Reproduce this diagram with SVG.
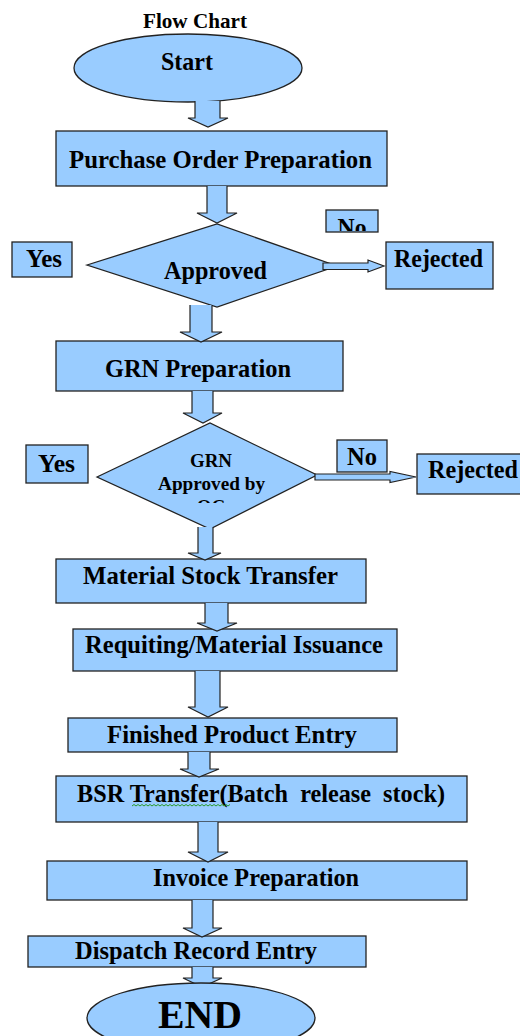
<svg xmlns="http://www.w3.org/2000/svg" width="520" height="1036" viewBox="0 0 520 1036">
<style>
.n{fill:#99ccff;stroke:#222;stroke-width:1.3}
.a{fill:#99ccff;stroke:#222;stroke-width:1.2;stroke-linejoin:miter}
.t{font-family:"Liberation Serif","Times New Roman",serif;font-weight:bold;font-size:25px;fill:#000}
.c{text-anchor:middle}
.s{font-size:19px}
</style>
<defs>
<clipPath id="clipNo1"><rect x="327" y="211" width="50" height="20"/></clipPath>
<clipPath id="clipQC"><rect x="90" y="420" width="240" height="83"/></clipPath>
</defs>
<rect width="520" height="1036" fill="#fff"/>
<g id="title"><text class="t c" x="195" y="28" style="font-size:21px" textLength="104" lengthAdjust="spacingAndGlyphs">Flow Chart</text></g>
<g id="start"><ellipse class="n" cx="188" cy="68" rx="114" ry="34"/><text class="t c" x="187" y="70" textLength="52" lengthAdjust="spacingAndGlyphs">Start</text></g>
<g id="po"><rect class="n" x="56" y="131" width="331" height="55"/><text class="t c" x="220.5" y="168" textLength="303" lengthAdjust="spacingAndGlyphs">Purchase Order Preparation</text></g>
<g id="approved"><polygon class="n" points="87,265 217,224 337,266 217,307"/><text class="t c" x="215.5" y="279" textLength="103" lengthAdjust="spacingAndGlyphs">Approved</text></g>
<g id="yes1"><rect class="n" x="12" y="242" width="60" height="35"/><text class="t c" x="44" y="267" textLength="36" lengthAdjust="spacingAndGlyphs">Yes</text></g>
<g id="no1"><rect class="n" x="326" y="210" width="52" height="22"/><text class="t c" x="352" y="236" clip-path="url(#clipNo1)" textLength="29" lengthAdjust="spacingAndGlyphs">No</text></g>
<g id="rejected1"><rect class="n" x="386" y="242" width="107" height="47"/><text class="t c" x="438.5" y="267" textLength="89" lengthAdjust="spacingAndGlyphs">Rejected</text></g>
<g id="grn"><rect class="n" x="56" y="341" width="287" height="50"/><text class="t c" x="198" y="377" textLength="186" lengthAdjust="spacingAndGlyphs">GRN Preparation</text></g>
<g id="grnqc"><polygon class="n" points="97,477 210,423 317,475 210,529"/>
<g clip-path="url(#clipQC)"><text class="t c s" x="211" y="467" textLength="42" lengthAdjust="spacingAndGlyphs">GRN</text><text class="t c s" x="211.5" y="490" textLength="107" lengthAdjust="spacingAndGlyphs">Approved by</text><text class="t c s" x="211" y="513">QC</text></g></g>
<g id="yes2"><rect class="n" x="26" y="445" width="62" height="38"/><text class="t c" x="56.5" y="472" textLength="37" lengthAdjust="spacingAndGlyphs">Yes</text></g>
<g id="no2"><rect class="n" x="337" y="440" width="50" height="32"/><text class="t c" x="362" y="465" textLength="30" lengthAdjust="spacingAndGlyphs">No</text></g>
<g id="rejected2"><rect class="n" x="417" y="454" width="110" height="40"/><text class="t" x="428" y="478" textLength="90" lengthAdjust="spacingAndGlyphs">Rejected</text></g>
<g id="mst"><rect class="n" x="56" y="559" width="310" height="44"/><text class="t c" x="210.5" y="584" textLength="255" lengthAdjust="spacingAndGlyphs">Material Stock Transfer</text></g>
<g id="rmi"><rect class="n" x="73" y="629" width="324" height="42"/><text class="t c" x="234" y="653" textLength="298" lengthAdjust="spacingAndGlyphs">Requiting/Material Issuance</text></g>
<g id="fpe"><rect class="n" x="68" y="718" width="329" height="34"/><text class="t c" x="232" y="743" textLength="250" lengthAdjust="spacingAndGlyphs">Finished Product Entry</text></g>
<g id="bsr"><rect class="n" x="56" y="776" width="411" height="46"/><text class="t" x="77" y="802" xml:space="preserve" textLength="368" lengthAdjust="spacingAndGlyphs">BSR Transfer(Batch  release  stock)</text>
<path d="M132,806 l2,-1.5 l2,1.5 l2,-1.5 l2,1.5 l2,-1.5 l2,1.5 l2,-1.5 l2,1.5 l2,-1.5 l2,1.5 l2,-1.5 l2,1.5 l2,-1.5 l2,1.5 l2,-1.5 l2,1.5 l2,-1.5 l2,1.5 l2,-1.5 l2,1.5 l2,-1.5 l2,1.5 l2,-1.5 l2,1.5 l2,-1.5 l2,1.5 l2,-1.5 l2,1.5 l2,-1.5 l2,1.5 l2,-1.5 l2,1.5 l2,-1.5 l2,1.5 l2,-1.5 l2,1.5 l2,-1.5 l2,1.5 l2,-1.5 l2,1.5 l2,-1.5 l2,1.5 l2,-1.5 l2,1.5 l2,-1.5 l2,1.5 l2,-1.5 l2,1.5 l2,-1.5" fill="none" stroke="#2a9a2a" stroke-width="1"/></g>
<g id="invoice"><rect class="n" x="47" y="861" width="420" height="39"/><text class="t c" x="256" y="886" textLength="206" lengthAdjust="spacingAndGlyphs">Invoice Preparation</text></g>
<g id="dispatch"><rect class="n" x="28" y="936" width="338" height="31"/><text class="t c" x="196" y="959" textLength="242" lengthAdjust="spacingAndGlyphs">Dispatch Record Entry</text></g>
<g id="connectors">
<path class="a" d="M195,101 V118 H188 L208,127 L228,118 H220 V101"/>
<path class="a" d="M207,186 V213 H197 L217,223 L237,213 H227 V186"/>
<path class="a" d="M190,305 V332 H180 L201,342 L222,332 H212 V305"/>
<path class="a" d="M192,391 V413 H183 L203,423 L222,413 H213 V391"/>
<path class="a" d="M198,527 V553 H188 L205,560 L221,553 H213 V527"/>
<path class="a" d="M205,603 V623 H197 L217,631 L237,623 H228 V603"/>
<path class="a" d="M195,671 V707 H188 L208,717 L228,707 H220 V671"/>
<path class="a" d="M188,752 V769 H180 L199,777 L219,769 H210 V752"/>
<path class="a" d="M198,822 V852 H188 L208,862 L228,852 H218 V822"/>
<path class="a" d="M192,900 V928 H183 L202,937 L222,928 H213 V900"/>
<path class="a" d="M192,967 V978 H183 L202,987 L222,978 H213 V967"/>
<path class="a" d="M323,263 H368 V260 L384,266 L368,272 V269.5 H323 Z"/>
<path class="a" d="M315,474 H390 V471.5 L416,477 L390,482.5 V480 H315 Z"/>
</g>
<g id="end"><ellipse class="n" cx="201" cy="1018" rx="114" ry="35"/><text class="t c" x="200" y="1028" style="font-size:39px" textLength="84" lengthAdjust="spacingAndGlyphs">END</text></g>
</svg>
